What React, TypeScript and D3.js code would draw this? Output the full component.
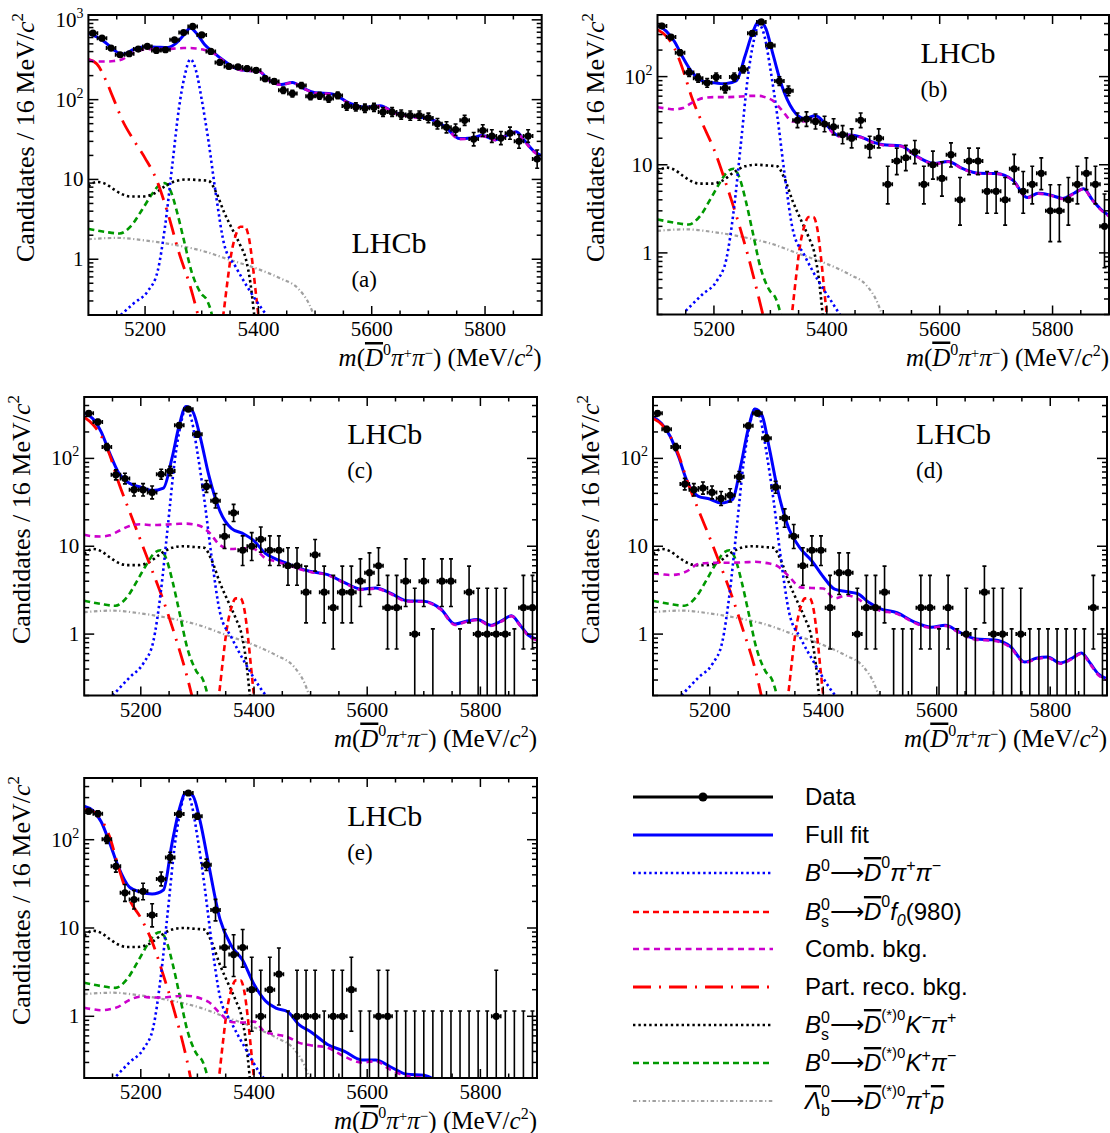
import React from 'react';
import * as d3 from 'd3';

// ---- binning: 16 MeV bins between 5100 and 5900 ----
const binCentres = d3.range(50).map(i => 5108 + 16 * i);

// ---- data counts per bin ----
const dataA = [681, 590, 443, 365, 376, 430, 464, 414, 422, 562, 693, 826, 648, 402, 293, 261, 257, 245, 233, 183, 169, 131, 119, 150, 110, 112, 103, 113, 83, 81, 78, 80, 70, 70, 65, 63, 63, 59, 50, 45, 42, 55, 32, 41, 35, 33, 38, 30, 35, 18];
const dataB = [375, 281, 187, 111, 96, 85, 99, 74, 99, 121, 310, 417, 226, 89, 69, 32, 33, 31, 29, 27, 22, 20, 32, 16, 20, 6, 11, 12, 14, 6, 10, 7, 13, 4, 11, 11, 5, 5, 4, 9, 5, 6, 8, 3, 3, 4, 6, 8, 6, 2];
const dataC = [326, 260, 135, 65, 59, 44, 44, 41, 66, 72, 238, 363, 188, 48, 33, 13, 24, 9, 10, 12, 9, 9, 6, 6, 3, 8, 3, 2, 3, 3, 4, 5, 6, 2, 2, 4, 1, 4, 0, 4, 4, 0, 3, 1, 1, 1, 1, 0, 2, 2];
const dataD = [326, 215, 135, 51, 44, 46, 41, 35, 38, 62, 235, 326, 170, 47, 21, 13, 6, 9, 9, 2, 5, 5, 1, 2, 2, 3, 0, 0, 0, 2, 2, 0, 2, 0, 1, 0, 3, 1, 1, 0, 1, 0, 0, 0, 0, 0, 0, 0, 2, 0];
const dataE = [210, 197, 101, 50, 25, 21, 26, 14, 36, 63, 195, 338, 184, 52, 16, 6, 5, 6, 2, 1, 2, 3, 0, 1, 1, 1, 0, 1, 1, 2, 0, 0, 1, 1, 0, 0, 0, 0, 0, 0, 0, 0, 0, 0, 0, 1, 0, 0, 0, 0];

// ---- full fit and combinatorial background (knots in MeV) ----
const fitM = [5100, 5115, 5130, 5145, 5160, 5180, 5200, 5220, 5240, 5255, 5268, 5280, 5292, 5305, 5320, 5340, 5360, 5380, 5400, 5420, 5440, 5460, 5480, 5500, 5530, 5560, 5590, 5615, 5640, 5670, 5700, 5730, 5755, 5775, 5795, 5818, 5838, 5855, 5870, 5885, 5900];

const fullA = [680, 610, 520, 420, 370, 425, 460, 455, 450, 510, 640, 790, 660, 490, 395, 305, 247, 232, 229, 173, 155, 164, 138, 122, 118, 91, 80, 84, 69, 62, 58, 45.5, 32.5, 33, 35.5, 31.5, 35.5, 39.5, 30.5, 23, 19.8];
const combA = [316, 300, 300, 305, 320, 390, 425, 430, 432, 438, 443, 443, 435, 420, 385, 300, 245, 230, 228, 172, 154, 163, 137, 121, 117, 90, 79, 83, 68, 61, 57, 45, 32, 32.5, 35, 31, 35, 39, 30, 22.5, 19.5];

const fullB = [380, 330, 250, 165, 115, 89, 85, 83, 90, 170, 310, 430, 350, 175, 80, 42, 33.5, 36, 28, 21.5, 21.8, 20.7, 18.2, 16.9, 16.4, 12.4, 10.3, 10.9, 9.1, 8.0, 7.95, 6.65, 4.25, 4.75, 4.55, 4.15, 4.75, 5.35, 4.05, 3.15, 2.65];
const combB = [45, 43.5, 42.5, 44, 50, 57, 58.5, 58.5, 59, 60, 60.5, 60.5, 58, 53, 42, 31, 31, 33, 27, 21, 21.5, 20.5, 18, 16.7, 16.3, 12.3, 10.2, 10.8, 9.0, 7.9, 7.9, 6.6, 4.2, 4.7, 4.5, 4.1, 4.7, 5.3, 4.0, 3.1, 2.6];

const fullC = [330, 285, 200, 115, 70, 52, 47, 43, 46, 100, 240, 390, 340, 175, 65, 25, 16, 14, 11.5, 8.3, 7.1, 6.3, 5.6, 5.15, 4.75, 3.85, 3.25, 3.35, 2.95, 2.4, 2.37, 1.93, 1.3, 1.4, 1.47, 1.26, 1.42, 1.62, 1.27, 0.97, 0.87];
const combC = [13.5, 13.0, 12.9, 13.3, 14.8, 17.0, 17.8, 17.4, 17.6, 17.8, 18.0, 18.1, 17.8, 17.0, 14.5, 10.3, 9.3, 9.5, 9.3, 7.3, 6.7, 6.1, 5.5, 5.1, 4.7, 3.8, 3.2, 3.3, 2.9, 2.35, 2.33, 1.9, 1.27, 1.38, 1.45, 1.24, 1.4, 1.6, 1.25, 0.95, 0.85];

const fullD = [295, 250, 180, 105, 55, 37, 34.5, 31, 34, 85, 220, 365, 310, 130, 43, 15.5, 9.4, 6.8, 4.5, 3.25, 3.05, 2.9, 2.3, 1.95, 1.75, 1.38, 1.2, 1.26, 1.05, 0.88, 0.86, 0.72, 0.48, 0.53, 0.55, 0.47, 0.53, 0.61, 0.47, 0.35, 0.31];
const combD = [4.9, 4.8, 4.7, 4.8, 5.2, 6.3, 6.45, 6.5, 6.5, 6.55, 6.6, 6.65, 6.55, 6.35, 5.9, 4.5, 3.4, 3.35, 3.3, 2.55, 2.75, 2.55, 2.05, 1.85, 1.7, 1.35, 1.18, 1.24, 1.03, 0.86, 0.84, 0.7, 0.47, 0.52, 0.54, 0.46, 0.52, 0.6, 0.46, 0.34, 0.3];

const fullE = [240, 215, 160, 92, 50, 29, 25.5, 24.3, 27, 90, 220, 345, 315, 160, 52, 12.5, 6.3, 4.3, 2.3, 1.5, 1.23, 1.12, 0.8, 0.67, 0.48, 0.4, 0.32, 0.32, 0.27, 0.22, 0.215, 0.17, 0.12, 0.13, 0.135, 0.115, 0.13, 0.15, 0.115, 0.085, 0.075];
const combE = [1.25, 1.2, 1.17, 1.2, 1.28, 1.53, 1.67, 1.63, 1.63, 1.67, 1.7, 1.71, 1.68, 1.6, 1.45, 1.08, 0.86, 0.85, 0.87, 0.66, 0.62, 0.58, 0.5, 0.47, 0.44, 0.35, 0.3, 0.31, 0.25, 0.21, 0.2, 0.17, 0.12, 0.13, 0.135, 0.115, 0.13, 0.15, 0.115, 0.085, 0.075];

// ---- signal B0 -> D0bar pi pi ----
const sigM = [5150, 5180, 5205, 5222, 5235, 5248, 5260, 5270, 5280, 5290, 5300, 5312, 5325, 5340, 5360, 5385, 5410, 5430];
const sigA = [0.18, 0.28, 0.4, 0.7, 2.5, 15, 80, 200, 320, 230, 100, 30, 6.5, 1.5, 0.8, 0.4, 0.22, 0.15];
const sigB = [0.22, 0.34, 0.48, 0.85, 3.0, 18, 98, 245, 390, 280, 122, 37, 8, 1.8, 0.95, 0.48, 0.27, 0.17];
const sigC = [0.2, 0.32, 0.47, 0.82, 2.9, 17.5, 94, 234, 375, 270, 117, 35, 7.6, 1.75, 0.92, 0.46, 0.25, 0.17];
const sigD = [0.2, 0.32, 0.46, 0.81, 2.9, 17.4, 93, 232, 370, 267, 116, 35, 7.5, 1.75, 0.9, 0.46, 0.25, 0.17];
const sigE = [0.19, 0.3, 0.43, 0.75, 2.7, 16, 86, 215, 345, 248, 108, 32, 7, 1.65, 0.85, 0.43, 0.23, 0.16];

// ---- partially reconstructed background ----
const prM = [5100, 5115, 5130, 5145, 5160, 5180, 5200, 5220, 5240, 5260, 5280, 5295];
const prA = [320, 280, 180, 100, 55, 31, 18.5, 10, 3.8, 1.2, 0.45, 0.18];
const prB = [340, 290, 210, 120, 60, 29, 15, 6.5, 2.6, 0.95, 0.3, 0.12];
const prC = [295, 245, 180, 110, 55, 25, 11.5, 5.3, 2.4, 0.98, 0.36, 0.15];
const prD = [285, 245, 180, 110, 56, 26, 12.5, 5.8, 2.6, 1.05, 0.4, 0.15];
const prE = [220, 210, 170, 108, 50, 21, 13, 7, 2.9, 1.1, 0.35, 0.12];

// ---- fixed-yield backgrounds, same in every panel ----
const bsKpiM = [5100, 5115, 5130, 5145, 5160, 5175, 5195, 5215, 5235, 5255, 5275, 5295, 5312, 5325, 5340, 5355, 5368, 5378, 5386, 5392, 5397];
const bsKpiY = [8.2, 9.3, 8.8, 7.5, 6.5, 6.1, 6.1, 6.6, 8.2, 9.6, 10.0, 9.8, 9.6, 7.0, 3.8, 2.3, 1.5, 1.0, 0.5, 0.22, 0.1];
const bdKpiM = [5100, 5130, 5155, 5175, 5195, 5212, 5225, 5235, 5245, 5256, 5268, 5282, 5298, 5310, 5318, 5325];
const bdKpiY = [2.4, 2.2, 2.1, 2.6, 4.2, 6.5, 8.5, 9.0, 7.2, 4.0, 1.8, 0.7, 0.38, 0.3, 0.2, 0.1];
const lbM = [5100, 5150, 5200, 5250, 5300, 5350, 5400, 5440, 5470, 5490, 5505];
const lbY = [1.78, 1.85, 1.72, 1.52, 1.28, 0.98, 0.75, 0.57, 0.43, 0.27, 0.14];
const f0M = [5328, 5338, 5345, 5352, 5360, 5368, 5376, 5383, 5390, 5396, 5402];
const f0Y = [0.08, 0.2, 0.5, 1.15, 2.0, 2.55, 2.55, 1.9, 0.85, 0.35, 0.15];

const xMajor = [5200, 5400, 5600, 5800];

const serif = '"Liberation Serif", "Times New Roman", Times, serif';
const sans = '"Liberation Sans", Arial, Helvetica, sans-serif';

const STYLE: Record<string, { stroke: string; width: number; dash?: string }> = {
  full: { stroke: '#0000ff', width: 3 },
  sig: { stroke: '#0000ff', width: 2.6, dash: '2.4 3' },
  f0: { stroke: '#ff0000', width: 2.6, dash: '6 4' },
  comb: { stroke: '#cc00cc', width: 2.6, dash: '6 4.5' },
  pr: { stroke: '#ff0000', width: 2.8, dash: '18 8 2 8' },
  bsk: { stroke: '#000000', width: 2.6, dash: '2.4 3' },
  bdk: { stroke: '#009900', width: 2.6, dash: '6 4' },
  lb: { stroke: '#a0a0a0', width: 2.2, dash: '3.5 2.5 1.2 2.5' },
};

const panels = [
  { tag: 'a', x0: 88.4, x1: 541.7, y0: 15, y1: 315, yMax: 1150, lhcbY: 253, data: dataA, full: fullA, comb: combA, sig: sigA, pr: prA },
  { tag: 'b', x0: 657.5, x1: 1109, y0: 15, y1: 314.5, yMax: 500, lhcbY: 63, data: dataB, full: fullB, comb: combB, sig: sigB, pr: prB },
  { tag: 'c', x0: 84.2, x1: 537, y0: 397, y1: 695.5, yMax: 500, lhcbY: 444, data: dataC, full: fullC, comb: combC, sig: sigC, pr: prC },
  { tag: 'd', x0: 653, x1: 1107, y0: 397, y1: 695.5, yMax: 500, lhcbY: 444, data: dataD, full: fullD, comb: combD, sig: sigD, pr: prD },
  { tag: 'e', x0: 84.2, x1: 537, y0: 778, y1: 1078, yMax: 500, lhcbY: 826, data: dataE, full: fullE, comb: combE, sig: sigE, pr: prE },
];

type Spec = typeof panels[number];

// Poisson 68% interval as drawn by RooFit
function poisson(n: number): [number, number] {
  if (n === 0) return [0, 1.148];
  return [n - Math.sqrt(n - 0.25), n + 1 + Math.sqrt(n + 0.75)];
}

function Panel({ p }: { p: Spec }) {
  const x = d3.scaleLinear().domain([5100, 5900]).range([p.x0, p.x1]);
  const y = d3.scaleLog().domain([0.2, p.yMax]).range([p.y1, p.y0]);
  const path = (ms: number[], vs: number[]) =>
    d3.line<number>().x((_, i) => x(ms[i])).y(v => y(v)).curve(d3.curveMonotoneX)(vs) || '';
  const clipId = `clip-${p.tag}`;

  const xMinor = d3.range(5150, 5900, 50).filter(t => t % 200 !== 0);
  const yMajor = [1, 10, 100, 1000].filter(v => v <= p.yMax);
  const yMinor: number[] = [];
  [0.1, 1, 10, 100, 1000].forEach(dec => {
    for (let k = 2; k <= 9; k++) {
      const v = dec * k;
      if (v >= 0.2 && v <= p.yMax) yMinor.push(v);
    }
  });

  const curve = (key: string, ms: number[], vs: number[]) => {
    const s = STYLE[key];
    return (
      <path d={path(ms, vs)} fill="none" stroke={s.stroke} strokeWidth={s.width}
        strokeDasharray={s.dash} />
    );
  };

  const yLabel = (v: number) => {
    if (v === 1) return '1';
    if (v === 10) return '10';
    return null;
  };

  return (
    <g>
      <defs>
        <clipPath id={clipId}>
          <rect x={p.x0} y={p.y0} width={p.x1 - p.x0} height={p.y1 - p.y0} />
        </clipPath>
      </defs>

      <g clipPath={`url(#${clipId})`}>
        {curve('full', fitM, p.full)}
        {curve('lb', lbM, lbY)}
        {curve('bdk', bdKpiM, bdKpiY)}
        {curve('bsk', bsKpiM, bsKpiY)}
        {curve('f0', f0M, f0Y)}
        {curve('pr', prM, p.pr)}
        {curve('sig', sigM, p.sig)}
        {curve('comb', fitM, p.comb)}

        {p.data.map((n, i) => {
          const m = binCentres[i];
          const cx = x(m);
          const [lo, hi] = poisson(n);
          const yHi = y(hi);
          const yLo = lo > 0 ? y(lo) : p.y1 + 6;
          return (
            <g key={i} stroke="#000" strokeWidth={1.6}>
              <line x1={cx} x2={cx} y1={yHi} y2={yLo} />
              <line x1={cx - 2} x2={cx + 2} y1={yHi} y2={yHi} />
              <line x1={cx - 2} x2={cx + 2} y1={yLo} y2={yLo} />
              {n > 0 && (
                <>
                  <line x1={x(m - 8)} x2={x(m + 8)} y1={y(n)} y2={y(n)} />
                  <line x1={x(m - 8)} x2={x(m - 8)} y1={y(n) - 2} y2={y(n) + 2} />
                  <line x1={x(m + 8)} x2={x(m + 8)} y1={y(n) - 2} y2={y(n) + 2} />
                  <circle cx={cx} cy={y(n)} r={3.6} fill="#000" stroke="none" />
                </>
              )}
            </g>
          );
        })}
      </g>

      {/* ticks on all four sides */}
      <g stroke="#000" strokeWidth={1.5}>
        {xMajor.map(t => (
          <g key={`xm${t}`}>
            <line x1={x(t)} x2={x(t)} y1={p.y1} y2={p.y1 - 9} />
            <line x1={x(t)} x2={x(t)} y1={p.y0} y2={p.y0 + 9} />
          </g>
        ))}
        {xMinor.map(t => (
          <g key={`xn${t}`}>
            <line x1={x(t)} x2={x(t)} y1={p.y1} y2={p.y1 - 4.5} />
            <line x1={x(t)} x2={x(t)} y1={p.y0} y2={p.y0 + 4.5} />
          </g>
        ))}
        {yMajor.map(v => (
          <g key={`ym${v}`}>
            <line x1={p.x0} x2={p.x0 + 10} y1={y(v)} y2={y(v)} />
            <line x1={p.x1} x2={p.x1 - 10} y1={y(v)} y2={y(v)} />
          </g>
        ))}
        {yMinor.map(v => (
          <g key={`yn${v}`}>
            <line x1={p.x0} x2={p.x0 + 5} y1={y(v)} y2={y(v)} />
            <line x1={p.x1} x2={p.x1 - 5} y1={y(v)} y2={y(v)} />
          </g>
        ))}
      </g>

      <rect x={p.x0} y={p.y0} width={p.x1 - p.x0} height={p.y1 - p.y0} fill="none" stroke="#000" strokeWidth={2} />

      <g fontFamily={serif} fontSize={21} fill="#000">
        {xMajor.map(t => (
          <text key={t} x={x(t)} y={p.y1 + 21} textAnchor="middle">{t}</text>
        ))}
        {yMajor.map(v => (
          <text key={v} x={p.x0 - 5} y={y(v) + 7} textAnchor="end">
            {yLabel(v) ?? (
              <>
                10<tspan fontSize={14} dy={-9}>{v === 100 ? '2' : '3'}</tspan>
              </>
            )}
          </text>
        ))}
      </g>

      <text x={p.x1} y={p.y1 + 51} textAnchor="end" fontFamily={serif} fontSize={25}>
        <tspan fontStyle="italic">m</tspan>
        <tspan>(</tspan>
        <tspan fontStyle="italic" style={{ textDecoration: 'overline' }}>D</tspan>
        <tspan fontSize={16} dy={-11}>0</tspan>
        <tspan fontStyle="italic" dy={11}>π</tspan>
        <tspan fontSize={15} dy={-8}>+</tspan>
        <tspan fontStyle="italic" dy={8}>π</tspan>
        <tspan fontSize={15} dy={-8}>−</tspan>
        <tspan dy={8}>) (MeV/</tspan>
        <tspan fontStyle="italic">c</tspan>
        <tspan fontSize={16} dy={-10}>2</tspan>
        <tspan dy={10}>)</tspan>
      </text>

      <text transform={`translate(${p.x0 - 54},${p.y0 - 2}) rotate(-90)`} textAnchor="end"
        fontFamily={serif} fontSize={26}>
        Candidates / 16 MeV/<tspan fontStyle="italic">c</tspan>
        <tspan fontSize={17} dy={-11}>2</tspan>
      </text>

      <text x={p.x0 + 263} y={p.lhcbY} fontFamily={serif} fontSize={30}>LHCb</text>
      <text x={p.x0 + 263} y={p.lhcbY + 34} fontFamily={serif} fontSize={23}>({p.tag})</text>
    </g>
  );
}

const legendRowY = [797, 835, 873, 912, 949, 987, 1025, 1063, 1101];
const legendKeys = ['data', 'full', 'sig', 'f0', 'comb', 'pr', 'bsk', 'bdk', 'lb'];

const OL = { textDecoration: 'overline' } as const;
const ARROW = '"DejaVu Sans", sans-serif';

function Arrow({ dx = 0, dy = 0 }: { dx?: number; dy?: number }) {
  return <tspan fontFamily={ARROW} fontWeight={300} dx={dx} dy={dy}>⟶</tspan>;
}

function LegendLabel({ k }: { k: string }) {
  switch (k) {
    case 'data': return <>Data</>;
    case 'full': return <>Full fit</>;
    case 'comb': return <>Comb. bkg.</>;
    case 'pr': return <>Part. reco. bkg.</>;
    case 'sig':
      return (
        <>
          <tspan fontStyle="italic">B</tspan>
          <tspan fontSize={16} dy={-10}>0</tspan>
          <Arrow dy={10} />
          <tspan fontStyle="italic" style={OL}>D</tspan>
          <tspan fontSize={16} dy={-13}>0</tspan>
          <tspan fontStyle="italic" dy={13}>π</tspan>
          <tspan fontSize={16} dy={-10}>+</tspan>
          <tspan fontStyle="italic" dy={10}>π</tspan>
          <tspan fontSize={16} dy={-10}>−</tspan>
        </>
      );
    case 'f0':
      return (
        <>
          <tspan fontStyle="italic">B</tspan>
          <tspan fontSize={16} dy={-10}>0</tspan>
          <tspan fontSize={16} dx={-8.9} dy={17}>s</tspan>
          <Arrow dx={0.9} dy={-7} />
          <tspan fontStyle="italic" style={OL}>D</tspan>
          <tspan fontSize={16} dy={-13}>0</tspan>
          <tspan fontStyle="italic" dy={13}>f</tspan>
          <tspan fontStyle="italic" fontSize={16} dy={6}>0</tspan>
          <tspan dy={-6}>(980)</tspan>
        </>
      );
    case 'bsk':
      return (
        <>
          <tspan fontStyle="italic">B</tspan>
          <tspan fontSize={16} dy={-10}>0</tspan>
          <tspan fontSize={16} dx={-8.9} dy={17}>s</tspan>
          <Arrow dx={0.9} dy={-7} />
          <tspan fontStyle="italic" style={OL}>D</tspan>
          <tspan fontSize={15} dy={-13}>(*)0</tspan>
          <tspan fontStyle="italic" dy={13}>K</tspan>
          <tspan fontSize={16} dy={-10}>−</tspan>
          <tspan fontStyle="italic" dy={10}>π</tspan>
          <tspan fontSize={16} dy={-10}>+</tspan>
        </>
      );
    case 'bdk':
      return (
        <>
          <tspan fontStyle="italic">B</tspan>
          <tspan fontSize={16} dy={-10}>0</tspan>
          <Arrow dy={10} />
          <tspan fontStyle="italic" style={OL}>D</tspan>
          <tspan fontSize={15} dy={-13}>(*)0</tspan>
          <tspan fontStyle="italic" dy={13}>K</tspan>
          <tspan fontSize={16} dy={-10}>+</tspan>
          <tspan fontStyle="italic" dy={10}>π</tspan>
          <tspan fontSize={16} dy={-10}>−</tspan>
        </>
      );
    case 'lb':
      return (
        <>
          <tspan fontStyle="italic" style={OL}>Λ</tspan>
          <tspan fontSize={16} dy={-12}>0</tspan>
          <tspan fontSize={16} dx={-8.9} dy={19}>b</tspan>
          <Arrow dy={-7} />
          <tspan fontStyle="italic" style={OL}>D</tspan>
          <tspan fontSize={15} dy={-13}>(*)0</tspan>
          <tspan fontStyle="italic" dy={13}>π</tspan>
          <tspan fontSize={16} dy={-10}>+</tspan>
          <tspan fontStyle="italic" dy={10} style={OL}>p</tspan>
        </>
      );
    default: return null;
  }
}

function Legend() {
  const lx0 = 633, lx1 = 773, tx = 805;
  return (
    <g>
      {legendKeys.map((k, i) => {
        const yy = legendRowY[i];
        const s = k === 'data' ? { stroke: '#000', width: 3, dash: undefined } : STYLE[k];
        return (
          <g key={k}>
            <line x1={lx0} x2={lx1} y1={yy} y2={yy} stroke={s.stroke} strokeWidth={s.width}
              strokeDasharray={s.dash} />
            {k === 'data' && <circle cx={(lx0 + lx1) / 2} cy={yy} r={4.5} fill="#000" />}
            <text x={tx} y={yy + 8} fontFamily={sans} fontSize={24} fill="#000">
              <LegendLabel k={k} />
            </text>
          </g>
        );
      })}
    </g>
  );
}

export default function App() {
  return (
    <svg width={1110} height={1133} viewBox="0 0 1110 1133"
      style={{ position: 'absolute', left: 0, top: 0, background: '#fff' }}>
      {panels.map(p => <Panel key={p.tag} p={p} />)}
      <Legend />
    </svg>
  );
}
